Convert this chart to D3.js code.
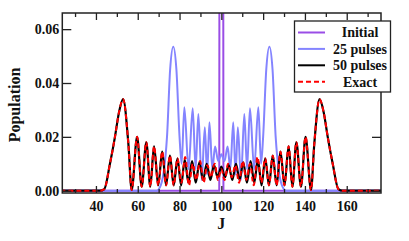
<!DOCTYPE html>
<html>
<head>
<meta charset="utf-8">
<script src="https://cdn.jsdelivr.net/npm/d3@7"></script>
<style>
  body { margin: 0; background: #fff; }
  svg { display: block; }
</style>
</head>
<body>
<div id="chart"></div>
<script>
const SERIF = "'Liberation Serif', 'DejaVu Serif', serif";

// 初始分布：J=100 处的单态
const initJ   = [0, 99, 100, 101, 200];
const initPop = [0, 0, 1, 0, 0];

// 25 个脉冲（峰/谷点）
const p25J   = [0, 69, 71, 74, 75.5, 77, 78.5, 80, 81, 82.3, 84.3, 86.3, 87.7, 89, 90.6, 92.1, 93.2, 94.3, 95.7, 97, 98.5, 100,
                101.5, 103, 104.3, 105.7, 106.8, 107.9, 109.4, 111, 112.3, 113.7, 115.7, 117.7, 119, 120, 121.5, 123, 124.5, 126, 129, 131, 200];
const p25Pop = [0, 0, 0.002, 0.02, 0.045, 0.0535, 0.045, 0.02, 0.01, 0.031, 0.008, 0.0306, 0.008, 0.0285, 0.004, 0.0236, 0.006, 0.0254, 0.008, 0.0164, 0.011, 0.0135,
                0.011, 0.0164, 0.008, 0.0254, 0.006, 0.0236, 0.004, 0.0285, 0.008, 0.0306, 0.008, 0.031, 0.01, 0.02, 0.045, 0.0535, 0.045, 0.02, 0.002, 0, 0];

// 50 个脉冲（峰/谷点）
const p50J   = [0, 42, 44, 46.7, 49.1, 51, 53, 55.5, 57.1, 59.7, 61.9, 64.1, 66.0, 67.8, 69.8, 71.7, 73.55, 75.4, 77.2, 79.0, 80.75, 82.5, 84.25, 86.0, 87.75, 89.5, 91.25, 93.0, 94.75, 96.5, 98.25, 100,
                101.75, 103.5, 105.25, 107.0, 108.75, 110.5, 112.25, 114.0, 115.75, 117.5, 119.25, 121.0, 122.8, 124.6, 126.45, 128.3, 130.2, 132.2, 134.0, 135.9, 138.1, 140.3, 142.9, 144.5, 147, 149, 150.9, 153.3, 156, 158, 200];
const p50Pop = [0, 0, 0.0006, 0.010, 0.020, 0.029, 0.034, 0.0176, 0.0003, 0.020, 0.0015, 0.018, 0.0015, 0.0165, 0.002, 0.0145, 0.002, 0.013, 0.002, 0.012, 0.002, 0.0115, 0.003, 0.011, 0.003, 0.0105, 0.004, 0.010, 0.004, 0.0095, 0.005, 0.009,
                0.005, 0.0095, 0.004, 0.010, 0.004, 0.0105, 0.003, 0.011, 0.003, 0.0115, 0.002, 0.012, 0.002, 0.013, 0.002, 0.0145, 0.002, 0.0165, 0.0015, 0.018, 0.0015, 0.020, 0.0003, 0.0176, 0.034, 0.029, 0.020, 0.010, 0.0006, 0, 0];

// 精确解（外侧与 50 个脉冲重合，中间略有偏差）
const exJ   = [0, 42, 44, 46.7, 49.1, 51, 53, 55.5, 57.1, 59.7, 61.9, 64.1, 66.0, 67.8, 69.8, 71.7, 73.55, 75.4, 77.2, 79.0, 80.9, 82.7, 84.5, 86.3, 88.0, 89.8, 91.5, 93.3, 95.0, 96.8, 98.4, 100,
               101.6, 103.2, 105.0, 106.7, 108.5, 110.2, 112.0, 113.7, 115.5, 117.3, 119.1, 121.0, 122.8, 124.6, 126.45, 128.3, 130.2, 132.2, 134.0, 135.9, 138.1, 140.3, 142.9, 144.5, 147, 149, 150.9, 153.3, 156, 158, 200];
const exPop = [0, 0, 0.0006, 0.010, 0.020, 0.029, 0.034, 0.0176, 0.0003, 0.020, 0.0015, 0.018, 0.0015, 0.0165, 0.002, 0.0145, 0.002, 0.013, 0.002, 0.012, 0.003, 0.0125, 0.002, 0.010, 0.004, 0.011, 0.003, 0.0095, 0.005, 0.010, 0.004, 0.008,
               0.004, 0.010, 0.005, 0.0095, 0.003, 0.011, 0.004, 0.010, 0.002, 0.0125, 0.003, 0.012, 0.002, 0.013, 0.002, 0.0145, 0.002, 0.0165, 0.0015, 0.018, 0.0015, 0.020, 0.0003, 0.0176, 0.034, 0.029, 0.020, 0.010, 0.0006, 0, 0];

const xMajor = [40, 60, 80, 100, 120, 140, 160];
const xMinor = [30, 50, 70, 90, 110, 130, 150, 170];
const yTicks = [0, 0.02, 0.04, 0.06];

const seriesNames = ["Initial", "25 pulses", "50 pulses", "Exact"];

// 画布
const W = 409, H = 241;
const margin = {top: 13, right: 28, bottom: 48, left: 62.3};
const width = W - margin.left - margin.right,
      height = H - margin.top - margin.bottom;

const svg = d3.select("#chart").append("svg")
    .attr("width", W).attr("height", H);

const g = svg.append("g")
    .attr("transform", `translate(${margin.left},${margin.top})`);

const x = d3.scaleLinear().domain([23.9, 176.4]).range([0, width]);
const y = d3.scaleLinear().domain([-0.00085, 0.066]).range([height, 0]);

g.append("clipPath").attr("id", "clip")
  .append("rect").attr("width", width).attr("height", height);

// 曲线
const lineOf = (js, ps, curve) => d3.line()
    .x((d, i) => x(js[i]))
    .y((d, i) => y(ps[i]))
    .curve(curve)(ps);

const plot = g.append("g").attr("clip-path", "url(#clip)");

plot.append("path")
    .attr("d", lineOf(initJ, initPop, d3.curveLinear))
    .attr("fill", "none").attr("stroke", "#9a4de6").attr("stroke-width", 2);

plot.append("path")
    .attr("d", lineOf(p25J, p25Pop, d3.curveMonotoneX))
    .attr("fill", "none").attr("stroke", "#8484ff").attr("stroke-width", 2);

plot.append("path")
    .attr("d", lineOf(p50J, p50Pop, d3.curveMonotoneX))
    .attr("fill", "none").attr("stroke", "#000").attr("stroke-width", 2.2);

plot.append("path")
    .attr("d", lineOf(exJ, exPop, d3.curveMonotoneX))
    .attr("fill", "none").attr("stroke", "#ff0000").attr("stroke-width", 2)
    .attr("stroke-dasharray", "5,3");

// 坐标轴
const fmtY = d3.format(".2f");
function styleAxis(sel) {
  sel.attr("font-family", null).attr("font-size", null);
  sel.select(".domain").remove();
  sel.selectAll("line").attr("stroke", "#222").attr("stroke-width", 1.3);
  sel.selectAll("text").attr("fill", "#111");
}

g.append("g").attr("transform", `translate(0,${height})`)
  .call(d3.axisBottom(x).tickValues(xMajor).tickSizeInner(-7).tickSizeOuter(0).tickPadding(8).tickFormat(d3.format("d")))
  .call(styleAxis);
g.append("g").attr("transform", `translate(0,${height})`)
  .call(d3.axisBottom(x).tickValues(xMinor).tickSizeInner(-4).tickSizeOuter(0).tickFormat(""))
  .call(styleAxis);
g.append("g")
  .call(d3.axisTop(x).tickValues(xMajor).tickSizeInner(-7).tickSizeOuter(0).tickFormat(""))
  .call(styleAxis);
g.append("g")
  .call(d3.axisTop(x).tickValues(xMinor).tickSizeInner(-4).tickSizeOuter(0).tickFormat(""))
  .call(styleAxis);
g.append("g")
  .call(d3.axisLeft(y).tickValues(yTicks).tickSizeInner(-9).tickSizeOuter(0).tickPadding(3).tickFormat(fmtY))
  .call(styleAxis);
g.append("g").attr("transform", `translate(${width},0)`)
  .call(d3.axisRight(y).tickValues(yTicks).tickSizeInner(-9).tickSizeOuter(0).tickFormat(""))
  .call(styleAxis);

g.append("rect")
    .attr("width", width).attr("height", height)
    .attr("fill", "none").attr("stroke", "#222").attr("stroke-width", 1.5);

// 轴标题
svg.append("text")
    .attr("x", margin.left + x(100)).attr("y", 229)
    .attr("text-anchor", "middle").style("font-size", "16px").text("J");
svg.append("text")
    .attr("transform", `translate(19.5,${105}) rotate(-90)`)
    .attr("text-anchor", "middle").style("font-size", "16px").text("Population");

// 图例
const legendColors = ["#9a4de6", "#8484ff", "#000", "#ff0000"];
const legend = svg.append("g");
legend.append("rect")
    .attr("x", 294.5).attr("y", 21).attr("width", 96).attr("height", 71)
    .attr("fill", "#fff").attr("stroke", "#222").attr("stroke-width", 1.3);
const items = legend.selectAll(".item").data(seriesNames).enter().append("g")
    .attr("transform", (d, i) => `translate(0,${32.5 + i * 16.4})`);
items.append("line")
    .attr("x1", 298).attr("x2", 325)
    .attr("stroke", (d, i) => legendColors[i]).attr("stroke-width", 2)
    .attr("stroke-dasharray", (d, i) => i === 3 ? "5,3" : null);
items.append("text")
    .attr("x", 360).attr("dy", "0.35em").attr("text-anchor", "middle")
    .style("font-size", "14px").text(d => d);

// 字体：粗体衬线
svg.selectAll("text")
    .style("font-family", SERIF)
    .style("font-weight", "bold")
    .style("fill", "#111");
svg.selectAll(".tick text").style("font-size", "14px");
</script>
</body>
</html>
